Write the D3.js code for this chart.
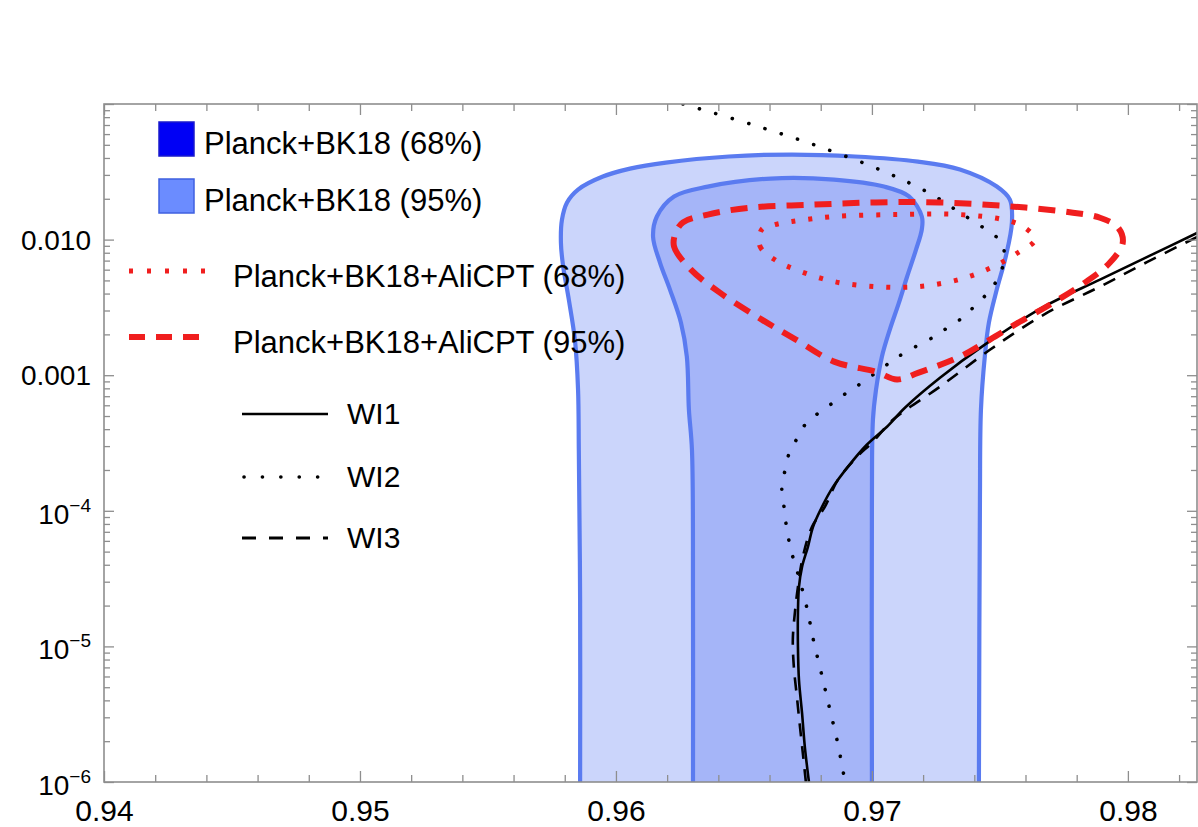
<!DOCTYPE html>
<html><head><meta charset="utf-8">
<script src="https://cdn.jsdelivr.net/npm/d3@7"></script>
<style>
body{margin:0;background:#fff;}
svg{display:block;}
text{font-family:"Liberation Sans",Arial,Helvetica,sans-serif;fill:#000;}
</style>
</head><body>
<svg id="chart" width="1198" height="827"></svg>
<script>
// ---------- data (n_s, r) ----------
const xTicks = [0.94, 0.95, 0.96, 0.97, 0.98];
const xTickLabels = ["0.94", "0.95", "0.96", "0.97", "0.98"];
const yTicks = [1e-6, 1e-5, 1e-4, 1e-3, 1e-2];
const yTickBase = ["10", "10", "10", "0.001", "0.010"];
const yTickExp = ["\u22126", "\u22125", "\u22124", "", ""];

const planck95 = [
  [0.9586,1e-6],[0.9586,2.2e-5],[0.95855,2.8e-4],[0.95852,7.8e-4],[0.9584,1.8e-3],
  [0.95816,3.6e-3],[0.95793,6.5e-3],[0.95785,9.5e-3],[0.95789,0.0140],[0.95809,0.0188],
  [0.95852,0.0234],[0.95949,0.0292],[0.96055,0.0334],[0.96195,0.0370],[0.96441,0.0410],
  [0.96688,0.0424],[0.96934,0.0410],[0.9718,0.0376],[0.97344,0.0329],[0.97488,0.0246],
  [0.97539,0.0197],[0.97547,0.0134],[0.97523,7.5e-3],[0.97488,4.3e-3],[0.97457,2.44e-3],
  [0.97441,1.37e-3],[0.97426,5.6e-4],[0.97422,1.2e-4],[0.97418,1e-6]
];
const planck68 = [
  [0.96301,1e-6],[0.96301,2.2e-5],[0.96297,2.8e-4],[0.96285,5.6e-4],[0.96277,1.37e-3],
  [0.96254,2.44e-3],[0.96211,4.28e-3],[0.96172,6.77e-3],[0.96145,0.0105],[0.9616,0.0148],
  [0.96227,0.0208],[0.96359,0.0246],[0.96605,0.0282],[0.96852,0.0277],[0.97047,0.0246],
  [0.97145,0.0208],[0.97195,0.0148],[0.97195,0.0119],[0.97172,8.4e-3],[0.97137,5.3e-3],
  [0.97105,3.4e-3],[0.9707,2.17e-3],[0.97039,1.37e-3],[0.97016,7.8e-4],[0.97004,4.7e-4],
  [0.97,1.2e-4],[0.97,1e-6]
];
const ali95 = [
  [0.96234,0.0113],[0.96227,8.9e-3],[0.96293,6.0e-3],[0.96406,4.06e-3],[0.9657,2.57e-3],
  [0.96703,1.83e-3],[0.96852,1.26e-3],[0.97016,1.06e-3],[0.97098,9.3e-4],[0.9718,1.04e-3],
  [0.97344,1.37e-3],[0.97461,1.83e-3],[0.97578,2.48e-3],[0.97695,3.31e-3],[0.97832,4.82e-3],
  [0.9793,6.77e-3],[0.9798,9.5e-3],[0.97961,0.0123],[0.97891,0.0145],[0.97785,0.0158],
  [0.97555,0.0175],[0.97262,0.0188],[0.97016,0.0188],[0.9677,0.0181],[0.96523,0.0172],
  [0.96359,0.0153],[0.96262,0.0134]
];
const ali68 = [
  [0.9657,0.0119],[0.96563,8.9e-3],[0.96621,7.1e-3],[0.96703,6.0e-3],[0.96852,4.9e-3],
  [0.97016,4.5e-3],[0.9718,4.5e-3],[0.97344,5.1e-3],[0.97473,6.3e-3],[0.9757,8.0e-3],
  [0.97637,0.0100],[0.9759,0.0125],[0.97508,0.0141],[0.97344,0.0153],[0.97098,0.0153],
  [0.96852,0.0148],[0.96688,0.0136],[0.96621,0.0129]
];
const wi1 = [
  [0.96754,1e-6],[0.96738,1.81e-6],[0.96727,3.23e-6],[0.96715,5.66e-6],[0.96711,9.92e-6],
  [0.96711,1.77e-5],[0.96715,2.75e-5],[0.96727,3.86e-5],[0.9675,5.42e-5],[0.9677,7.62e-5],
  [0.96805,1.07e-4],[0.96848,1.50e-4],[0.96906,2.11e-4],[0.9698,3.07e-4],[0.97059,4.17e-4],
  [0.97129,5.76e-4],[0.97266,9.58e-4],[0.97441,1.68e-3],[0.97672,3.20e-3],[0.97891,5.07e-3],
  [0.98086,7.62e-3],[0.98273,0.01126]
];
const wi2 = [
  [0.96262,0.1],[0.96531,0.0706],[0.96793,0.0486],[0.97047,0.0318],[0.97234,0.0215],
  [0.97344,0.0158],[0.97457,0.01146],[0.97508,9.5e-3],[0.97516,7.12e-3],[0.97496,5.33e-3],
  [0.97457,4.13e-3],[0.97406,3.31e-3],[0.97359,2.70e-3],[0.97301,2.28e-3],[0.97242,1.92e-3],
  [0.97129,1.47e-3],[0.9707,1.24e-3],[0.96961,8.8e-4],[0.96902,7.43e-4],[0.96848,6.27e-4],
  [0.96793,5.29e-4],[0.96742,4.39e-4],[0.96707,3.40e-4],[0.96676,2.63e-4],[0.9666,1.97e-4],
  [0.96648,1.48e-4],[0.96656,1.09e-4],[0.96664,8.15e-5],[0.96676,6.01e-5],[0.96691,4.57e-5],
  [0.96711,3.43e-5],[0.96746,1.92e-5],[0.96773,1.08e-5],[0.96805,6.06e-6],[0.96836,3.40e-6],
  [0.96867,1.91e-6],[0.96895,1e-6]
];
const wi3 = [
  [0.96742,1e-6],[0.9673,1.64e-6],[0.96719,2.55e-6],[0.96707,4.24e-6],[0.96695,7.06e-6],
  [0.96691,1.12e-5],[0.96699,1.77e-5],[0.96711,2.75e-5],[0.9673,4.57e-5],[0.96766,7.62e-5],
  [0.96816,1.07e-4],[0.96867,1.69e-4],[0.96938,2.46e-4],[0.97004,3.23e-4],[0.97082,4.69e-4],
  [0.97266,8.23e-4],[0.97461,1.54e-3],[0.97672,2.80e-3],[0.97891,4.50e-3],[0.98086,7.0e-3],
  [0.98273,0.01052]
];
const legendBoxLabels = ["Planck+BK18 (68%)", "Planck+BK18 (95%)"];
const legendRedLabels = ["Planck+BK18+AliCPT (68%)", "Planck+BK18+AliCPT (95%)"];
const legendWILabels = ["WI1", "WI2", "WI3"];

// ---------- layout ----------
const L = 104, R = 1197, T = 104, B = 782;
const svg = d3.select("#chart");
const x = d3.scaleLinear().domain([0.94, 0.9827]).range([L, R]);
const y = d3.scaleLog().domain([1e-6, 0.1]).range([B, T]);

const C = {
  fill95: "#cbd5fb", fill68: "#a5b5f8", blueStroke: "#5a7bf0",
  red: "#f01e1e", frame: "#8e8e8e"
};

svg.append("defs").append("clipPath").attr("id", "clip")
  .append("rect").attr("x", L).attr("y", T).attr("width", R - L).attr("height", B - T);

const plot = svg.append("g").attr("clip-path", "url(#clip)");
const line = d3.line().x(d => x(d[0])).y(d => y(d[1])).curve(d3.curveCatmullRom.alpha(0.5));
const lineClosed = d3.line().x(d => x(d[0])).y(d => y(d[1])).curve(d3.curveCatmullRomClosed.alpha(0.5));

// blue regions
plot.append("path").attr("d", line(planck95) + "Z").attr("fill", C.fill95);
plot.append("path").attr("d", line(planck68) + "Z").attr("fill", C.fill68);
plot.append("path").attr("d", line(planck95)).attr("fill", "none")
  .attr("stroke", C.blueStroke).attr("stroke-width", 4.2);
plot.append("path").attr("d", line(planck68)).attr("fill", "none")
  .attr("stroke", C.blueStroke).attr("stroke-width", 4.2);

// WI curves
plot.append("path").attr("d", line(wi3)).attr("fill", "none")
  .attr("stroke", "#000").attr("stroke-width", 2.6).attr("stroke-dasharray", "13,10");
plot.append("path").attr("d", line(wi2)).attr("fill", "none")
  .attr("stroke", "#000").attr("stroke-width", 3.6).attr("stroke-linecap", "round")
  .attr("stroke-dasharray", "0.1,17");
plot.append("path").attr("d", line(wi1)).attr("fill", "none")
  .attr("stroke", "#000").attr("stroke-width", 2.6);

// AliCPT contours
plot.append("path").attr("d", lineClosed(ali68)).attr("fill", "none")
  .attr("stroke", C.red).attr("stroke-width", 5).attr("stroke-dasharray", "4,13");
plot.append("path").attr("d", lineClosed(ali95)).attr("fill", "none")
  .attr("stroke", C.red).attr("stroke-width", 6).attr("stroke-dasharray", "17,11");

// ---------- axes / frame ----------
const xMinor = d3.range(0, 22).map(i => +(0.94 + i * 0.002).toFixed(3)).filter(v => !xTicks.includes(v));
const yMinor = [];
[-6, -5, -4, -3, -2].forEach(k => { for (let m = 2; m <= 9; m++) yMinor.push(m * Math.pow(10, k)); });
const yMajorAll = yTicks.concat([0.1]);

function styleAxis(g) {
  g.select(".domain").remove();
  g.selectAll(".tick line").attr("stroke", C.frame).attr("stroke-width", 1.3);
}
// bottom
svg.append("g").attr("transform", `translate(0,${B})`)
  .call(d3.axisBottom(x).tickValues(xMinor).tickSize(-7).tickFormat("")).call(styleAxis);
const xAx = svg.append("g").attr("transform", `translate(0,${B})`)
  .call(d3.axisBottom(x).tickValues(xTicks).tickSize(-11).tickPadding(18)
    .tickFormat((d, i) => xTickLabels[i])).call(styleAxis);
xAx.selectAll("text").attr("font-size", 30).attr("fill", "#000")
  .style("font-family", '"Liberation Sans",Arial,sans-serif');
// top
svg.append("g").attr("transform", `translate(0,${T})`)
  .call(d3.axisTop(x).tickValues(xMinor).tickSize(-7).tickFormat("")).call(styleAxis);
svg.append("g").attr("transform", `translate(0,${T})`)
  .call(d3.axisTop(x).tickValues(xTicks).tickSize(-11).tickFormat("")).call(styleAxis);
// left
svg.append("g").attr("transform", `translate(${L},0)`)
  .call(d3.axisLeft(y).tickValues(yMinor).tickSize(-6).tickFormat("")).call(styleAxis);
svg.append("g").attr("transform", `translate(${L},0)`)
  .call(d3.axisLeft(y).tickValues(yMajorAll).tickSize(-10).tickFormat("")).call(styleAxis);
// right
svg.append("g").attr("transform", `translate(${R},0)`)
  .call(d3.axisRight(y).tickValues(yMinor).tickSize(-6).tickFormat("")).call(styleAxis);
svg.append("g").attr("transform", `translate(${R},0)`)
  .call(d3.axisRight(y).tickValues(yMajorAll).tickSize(-10).tickFormat("")).call(styleAxis);

// frame
svg.append("rect").attr("x", L).attr("y", T).attr("width", R - L).attr("height", B - T)
  .attr("fill", "none").attr("stroke", C.frame).attr("stroke-width", 1.6);

// y labels
yTicks.forEach((v, i) => {
  const t = svg.append("text").attr("x", 91).attr("text-anchor", "end").attr("font-size", 28);
  if (yTickExp[i]) {
    t.attr("y", y(v) + 13);
    t.append("tspan").text(yTickBase[i]);
    t.append("tspan").attr("font-size", 19).attr("dy", -12).text(yTickExp[i]);
  } else {
    t.attr("y", y(v) + 10).text(yTickBase[i]);
  }
});

// ---------- legend ----------
const lg = svg.append("g");
const boxFill = ["#0000f5", "#6b8cff"], boxStroke = ["#1a1acc", "#3f60e0"];
legendBoxLabels.forEach((s, i) => {
  const cy = [139, 196][i];
  lg.append("rect").attr("x", 159).attr("y", cy - 17).attr("width", 35).attr("height", 34)
    .attr("fill", boxFill[i]).attr("stroke", boxStroke[i]).attr("stroke-width", 1.5);
  lg.append("text").attr("x", 204).attr("y", cy + 15).attr("font-size", 31).text(s);
});
legendRedLabels.forEach((s, i) => {
  const cy = [271, 337][i];
  lg.append("line").attr("x1", 129).attr("x2", 206).attr("y1", cy).attr("y2", cy)
    .attr("stroke", C.red).attr("stroke-width", i ? 6 : 5)
    .attr("stroke-dasharray", i ? "16,11" : "4,14");
  lg.append("text").attr("x", 233).attr("y", cy + 16).attr("font-size", 31).text(s);
});
legendWILabels.forEach((s, i) => {
  const cy = [414, 477, 538][i];
  const l = lg.append("line").attr("x1", 242).attr("x2", 328).attr("y1", cy).attr("y2", cy)
    .attr("stroke", "#000");
  if (i === 0) l.attr("stroke-width", 2.6);
  if (i === 1) l.attr("stroke-width", 3.6).attr("stroke-linecap", "round").attr("stroke-dasharray", "0.1,18.3").attr("x1", 244);
  if (i === 2) l.attr("stroke-width", 3).attr("stroke-dasharray", "14,13");
  lg.append("text").attr("x", 347).attr("y", cy + 10).attr("font-size", 30).text(s);
});
</script>
</body></html>
